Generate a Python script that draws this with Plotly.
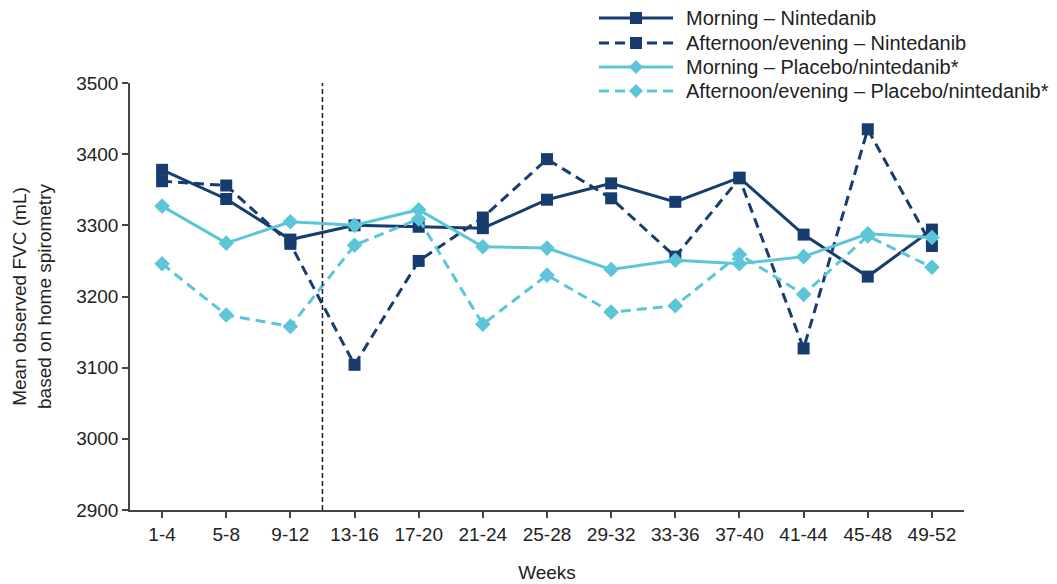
import plotly.graph_objects as go

weeks = ["1-4", "5-8", "9-12", "13-16", "17-20", "21-24", "25-28",
         "29-32", "33-36", "37-40", "41-44", "45-48", "49-52"]

morning_nint = [3378, 3337, 3280, 3300, 3298, 3296, 3336, 3359, 3333, 3367, 3287, 3228, 3294]
afternoon_nint = [3362, 3356, 3274, 3104, 3250, 3311, 3393, 3338, 3256, 3366, 3127, 3435, 3271]
morning_plac = [3327, 3275, 3305, 3300, 3322, 3270, 3268, 3238, 3251, 3246, 3256, 3288, 3283]
afternoon_plac = [3246, 3174, 3158, 3272, 3309, 3161, 3230, 3178, 3187, 3259, 3203, 3285, 3241]

series_names = ["Morning – Nintedanib", "Afternoon/evening – Nintedanib",
                "Morning – Placebo/nintedanib*", "Afternoon/evening – Placebo/nintedanib*"]

y_ticks = [2900, 3000, 3100, 3200, 3300, 3400, 3500]

NAVY = "#173c70"
CYAN = "#5cc6d8"
TXT = "#222222"
FONT = "Liberation Sans, Arial, sans-serif"
DASH = "10px,6px"

# page body adds an 8px offset; figure coords = screen coords - 8
OFF = 8
W, H = 1057 - OFF, 584 - OFF
ML, MR, MT, MB = 130 - OFF, 93, 83 - OFF, 74
PW, PH = W - ML - MR, H - MT - MB

fig = go.Figure()
styles = [
    (morning_nint, NAVY, "solid", "square", 12),
    (afternoon_nint, NAVY, DASH, "square", 12),
    (morning_plac, CYAN, "solid", "diamond", 12),
    (afternoon_plac, CYAN, DASH, "diamond", 12),
]
x_idx = list(range(len(weeks)))
for name, (vals, col, dash, sym, size) in zip(series_names, styles):
    fig.add_trace(go.Scatter(
        x=x_idx, y=vals, name=name, mode="lines+markers",
        line=dict(color=col, width=3, dash=dash),
        marker=dict(color=col, symbol=sym, size=size),
        showlegend=False,
    ))

# vertical dashed divider between weeks 9-12 and 13-16
fig.add_shape(type="line", xref="x", yref="paper", x0=2.5, x1=2.5, y0=0, y1=1,
              line=dict(color="#1a1a1a", width=1.5, dash="5px,3px"))

# manual legend (layout decoration, placed in screen pixels)
def px_x(px):
    return (px - OFF - ML) / PW

def px_y(py):
    return 1 + (MT - (py - OFF)) / PH

leg_x0, leg_x1, leg_text = 599, 673, 684
row_y = [18, 43, 67, 91]
for (vals, col, dash, sym, size), name, ry in zip(styles, series_names, row_y):
    yy = px_y(ry)
    fig.add_shape(type="line", xref="paper", yref="paper",
                  x0=px_x(leg_x0), x1=px_x(leg_x1), y0=yy, y1=yy,
                  line=dict(color=col, width=3, dash=dash))
    cx = px_x((leg_x0 + leg_x1) / 2)
    if sym == "square":
        fig.add_shape(type="rect", xref="paper", yref="paper",
                      xsizemode="pixel", ysizemode="pixel",
                      xanchor=cx, yanchor=yy, x0=-6, x1=6, y0=-6, y1=6,
                      fillcolor=col, line=dict(width=0))
    else:
        fig.add_shape(type="path", xref="paper", yref="paper",
                      xsizemode="pixel", ysizemode="pixel",
                      xanchor=cx, yanchor=yy,
                      path="M -7 0 L 0 7 L 7 0 L 0 -7 Z",
                      fillcolor=col, line=dict(width=0))
    fig.add_annotation(xref="paper", yref="paper", x=px_x(leg_text), y=yy,
                       text=name, showarrow=False, xanchor="left", yanchor="middle",
                       font=dict(size=20, color=TXT, family=FONT))

fig.update_layout(
    width=W, height=H,
    margin=dict(l=ML, r=MR, t=MT, b=MB, autoexpand=False),
    paper_bgcolor="white", plot_bgcolor="white",
    font=dict(family=FONT, size=19, color=TXT),
    showlegend=False,
    xaxis=dict(
        tickmode="array", tickvals=x_idx, ticktext=weeks,
        range=[-0.5, len(weeks) - 0.5],
        showgrid=False, zeroline=False,
        showline=True, linecolor="#444444", linewidth=1.5,
        ticks="outside", ticklen=6, tickcolor="#444444", tickwidth=1.5,
        tickson="boundaries",
        tickfont=dict(size=19, color=TXT),
        title=dict(text="Weeks", font=dict(size=19, color=TXT), standoff=22),
    ),
    yaxis=dict(
        range=[2900, 3500], tickvals=y_ticks,
        showgrid=False, zeroline=False,
        showline=True, linecolor="#444444", linewidth=1.5,
        ticks="outside", ticklen=6, tickcolor="#444444", tickwidth=1.5,
        tickfont=dict(size=19, color=TXT),
        title=dict(text="Mean observed FVC (mL)<br>based on home spirometry",
                   font=dict(size=19, color=TXT), standoff=20),
    ),
)

fig.write_html("out.html")
